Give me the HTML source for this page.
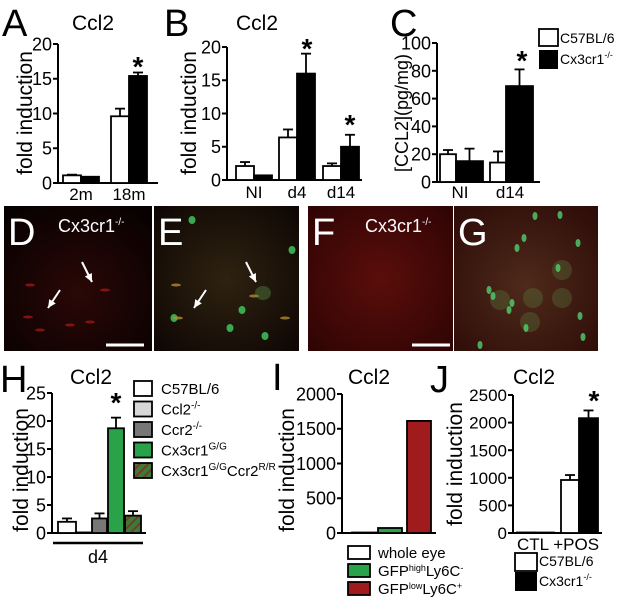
<!DOCTYPE html>
<html><head><meta charset="utf-8">
<style>
html,body{margin:0;padding:0;background:#fff;}
svg{display:block;font-family:"Liberation Sans",Arial,sans-serif;}
</style></head>
<body>
<svg id="fig" width="623" height="598" viewBox="0 0 623 598" xmlns="http://www.w3.org/2000/svg">
<defs>
<pattern id="hatch" patternUnits="userSpaceOnUse" width="6" height="6" patternTransform="rotate(45)">
<rect width="6" height="6" fill="#3c7a3c"/><rect width="2" height="6" fill="#7a3a20"/>
</pattern>
<radialGradient id="redbg" cx="50%" cy="60%" r="70%"><stop offset="0" stop-color="#2a0806"/><stop offset="1" stop-color="#080101"/></radialGradient>
<radialGradient id="mixbg" cx="50%" cy="50%" r="70%"><stop offset="0" stop-color="#2e2210"/><stop offset="1" stop-color="#0e0604"/></radialGradient>
<radialGradient id="fbg" cx="50%" cy="50%" r="70%"><stop offset="0" stop-color="#5a0e0a"/><stop offset="1" stop-color="#2e0404"/></radialGradient>
<radialGradient id="gbg" cx="50%" cy="55%" r="70%"><stop offset="0" stop-color="#4e2a1a"/><stop offset="1" stop-color="#2e0c08"/></radialGradient>
</defs>
<g id="layer"></g>
</svg>
<script>
// Panel A data
const aCats=["2m","18m"];
const aWT=[1.1,9.6], aWTerr=[1.2,10.7];
const aKO=[0.9,15.4], aKOerr=[0.9,15.9];
const aTicks=[0,5,10,15,20];
// Panel B data
const bCats=["NI","d4","d14"];
const bWT=[2.1,6.4,2.1], bWTerr=[2.7,7.6,2.5];
const bKO=[0.7,16,5.0], bKOerr=[0.7,19,6.8];
const bTicks=[0,5,10,15,20];
// Panel C data
const cCats=["NI","d14"];
const cWT=[20,14], cWTerr=[23,22];
const cKO=[15,69], cKOerr=[24,81];
const cTicks=[0,20,40,60,80,100];
// Panel H data
const hSeries=["C57BL/6","Ccl2","Ccr2","Cx3cr1GG","Cx3cr1GGCcr2RR"];
const hVals=[2.0,0.1,2.6,18.7,3.1];
const hErr=[2.6,0.1,3.5,20.6,3.9];
const hTicks=[0,5,10,15,20,25];
// Panel I data
const iSeries=["whole eye","GFPhigh","GFPlow"];
const iVals=[1,72,1613];
const iTicks=[0,500,1000,1500,2000];
// Panel J data
const jCats=["CTL","+POS"];
const jWT=[10,960], jWTerr=[10,1050];
const jKO=[8,2080], jKOerr=[8,2220];
const jTicks=[0,500,1000,1500,2000,2500];

const NS="http://www.w3.org/2000/svg";
const L=document.getElementById('layer');
function mk(tag,attrs,parent){const e=document.createElementNS(NS,tag);for(const k in attrs)e.setAttribute(k,attrs[k]);(parent||L).appendChild(e);return e;}
function txt(x,y,s,size,anchor,parent){const t=mk('text',{x:x,y:y,'font-size':size,'text-anchor':anchor||'start',fill:'#000'},parent);t.textContent=s;return t;}

function axis(name,x0,y0,yTop,maxV,ticks,xEnd,fs){
  const g=mk('g',{});
  
  
  const sy=v=>y0-(v/maxV)*(y0-yTop);
  mk('line',{x1:x0,y1:y0,x2:x0,y2:yTop,stroke:'#000','stroke-width':2},g);
  mk('line',{x1:x0,y1:y0,x2:xEnd,y2:y0,stroke:'#000','stroke-width':2},g);
  ticks.forEach(v=>{
    mk('line',{x1:x0-5,y1:sy(v),x2:x0,y2:sy(v),stroke:'#000','stroke-width':2},g);
    const t=txt(x0-6,sy(v)+fs*0.36,String(v),fs,'end',g);
    
    
  });
  return sy;
}
function bar(name,x,w,v,err,sy,fill){
  const y0=sy(0),yt=sy(v);
  const r=mk('rect',{x:x,y:Math.min(yt,y0-0.5),width:w,height:Math.max(y0-yt,0.5),fill:fill,stroke:'#000','stroke-width':1.8});
  
  
  if(err!=null && err>v){
    const cx=x+w/2,ye=sy(err);
    mk('line',{x1:cx,y1:yt,x2:cx,y2:ye,stroke:'#000','stroke-width':1.8});
    mk('line',{x1:cx-5,y1:ye,x2:cx+5,y2:ye,stroke:'#000','stroke-width':1.8});
  }
}
function star(x,y){const t=txt(x,y,'*',28,'middle');t.setAttribute('font-weight','bold');}
function ylabel(x,y,s,fs,name){const t=mk('text',{x:0,y:0,'font-size':fs,'text-anchor':'middle',transform:`translate(${x},${y}) rotate(-90)`});t.textContent=s;}
function label(x,y,s,fs,name,fill){const t=txt(x,y,s,fs,'start');if(fill)t.setAttribute('fill',fill);return t;}

// ---- Panel A
label(2,36,'A',38,'panel-a-letter');
label(72,30,'Ccl2',21,'panel-a-title');
ylabel(32,113,'fold induction',21,'panel-a-y-title');
let sy=axis('panel-a',58,183,44,20,aTicks,158,18);
const aX=[63,111];
aCats.forEach((c,i)=>{
  bar('bar-a-wt-'+c,aX[i],18,aWT[i],aWTerr[i],sy,'#fff');
  bar('bar-a-ko-'+c,aX[i]+18,18,aKO[i],aKOerr[i],sy,'#000');
  const t=txt(aX[i]+18,200,c,17,'middle');
});
star(138,76);

// ---- Panel B
label(164,36,'B',38,'panel-b-letter');
label(236,30,'Ccl2',21,'panel-b-title');
ylabel(196,113,'fold induction',21,'panel-b-y-title');
sy=axis('panel-b',227,180,47,20,bTicks,362,18);
const bX=[236,279,323];
bCats.forEach((c,i)=>{
  bar('bar-b-wt-'+c,bX[i],18,bWT[i],bWTerr[i],sy,'#fff');
  bar('bar-b-ko-'+c,bX[i]+18,18,bKO[i],bKOerr[i],sy,'#000');
  const t=txt(bX[i]+18,198,c,17,'middle');
});
star(307,58);star(350,134);

// ---- Panel C
label(390,36,'C',38,'panel-c-letter');
ylabel(408,113,'[CCL2](pg/mg)',18,'panel-c-y-title');
sy=axis('panel-c',437,182,43,100,cTicks,540,18);
const cX=[440,490];
cCats.forEach((c,i)=>{
  bar('bar-c-wt-'+c,cX[i],16,cWT[i],cWTerr[i],sy,'#fff');
  bar('bar-c-ko-'+c,cX[i]+16,27,cKO[i],cKOerr[i],sy,'#000');
  const t=txt(cX[i]+20,198,c,17,'middle');
});
star(522,70);
// legend C
let lg=mk('g',{});
mk('rect',{x:539,y:29,width:19,height:17,fill:'#fff',stroke:'#000','stroke-width':1.8},lg);
mk('rect',{x:539,y:50,width:19,height:19,fill:'#000'},lg);
txt(560,43,'C57BL/6',14,'start',lg);
let tt=txt(560,64,'Cx3cr1',14,'start',lg);
let ts=mk('tspan',{dy:-6,'font-size':9},tt);ts.textContent='-/-';

// ---- Image row
function imgPanel(name,x,w,fill,letter,extra){
  const g=mk('g',{});
  mk('rect',{x:x,y:206,width:w,height:145,fill:fill},g);
  extra(g,x);
  const t=txt(x+4,245,letter,38,'start',g);t.setAttribute('fill','#fff');
  return g;
}
function blob(g,x,y,rx,ry,c,o){mk('ellipse',{cx:x,cy:y,rx:rx,ry:ry,fill:c,opacity:o},g);}
function arrow(g,x1,y1,x2,y2){
  mk('line',{x1:x1,y1:y1,x2:x2,y2:y2,stroke:'#fff','stroke-width':2},g);
  const a=Math.atan2(y2-y1,x2-x1),s=9;
  const p=[[x2,y2],[x2-s*Math.cos(a-0.45),y2-s*Math.sin(a-0.45)],[x2-s*Math.cos(a+0.45),y2-s*Math.sin(a+0.45)]];
  mk('polygon',{points:p.map(q=>q.join(',')).join(' '),fill:'#fff'},g);
}
imgPanel('image-d',4,148,'url(#redbg)','D',(g,x)=>{
  [[30,285],[105,290],[28,317],[90,322],[70,325],[40,330]].forEach(p=>blob(g,p[0],p[1],5,1.5,'#b01818',0.7));
  arrow(g,82,262,92,282);arrow(g,60,290,48,308);
  mk('line',{x1:106,y1:345,x2:144,y2:345,stroke:'#fff','stroke-width':3},g);
  const t=txt(58,232,'Cx3cr1',18,'start',g);t.setAttribute('fill','#fff');
  const s2=mk('tspan',{dy:-7,'font-size':10},t);s2.textContent='-/-';
});
imgPanel('image-e',154,145,'url(#mixbg)','E',(g,x)=>{
  [[192,220],[242,310],[230,328],[265,336],[292,250],[174,318]].forEach(p=>blob(g,p[0],p[1],3.5,4,'#40d060',0.8));
  [[176,285],[254,296],[178,318],[285,318]].forEach(p=>blob(g,p[0],p[1],5,1.5,'#c09030',0.75));
  blob(g,263,293,8,7,'#60a050',0.35);
  arrow(g,246,262,256,282);arrow(g,206,290,194,308);
});
imgPanel('image-f',308,145,'url(#fbg)','F',(g,x)=>{
  mk('line',{x1:412,y1:345,x2:450,y2:345,stroke:'#fff','stroke-width':3},g);
  const t=txt(365,232,'Cx3cr1',18,'start',g);t.setAttribute('fill','#fff');
  const s2=mk('tspan',{dy:-7,'font-size':10},t);s2.textContent='-/-';
});
imgPanel('image-g',454,144,'url(#gbg)','G',(g,x)=>{
  [[500,300],[533,298],[562,298],[530,322],[562,270]].forEach(p=>blob(g,p[0],p[1],10,10,'#5a7a40',0.35));
  [[489,290],[512,303],[517,248],[524,238],[535,216],[560,215],[578,243],[558,268],[493,296],[509,310],[580,316],[583,337],[526,328],[480,345]].forEach(p=>blob(g,p[0],p[1],2.5,4,'#50d070',0.8));
});

// ---- Panel H
label(0,392,'H',38,'panel-h-letter');
label(70,384,'Ccl2',21,'panel-h-title');
ylabel(28,470,'fold induction',21,'panel-h-y-title');
sy=axis('panel-h',52,533,393,25,hTicks,146,18);
const hX=[58,76,92,108,125];
const hW=[18,14,15,16,16];
const hFill=['#fff','#d8d8d8','#777','#2aa24a','url(#hatch)'];
hSeries.forEach((s,i)=>bar('bar-h-'+s,hX[i],hW[i],hVals[i],hErr[i],sy,hFill[i]));
star(116,412);
mk('line',{x1:53,y1:543,x2:143,y2:543,stroke:'#000','stroke-width':2.5});
label(88,563,'d4',18,'x-label-d4');
lg=mk('g',{});
const hLeg=[['C57BL/6','',''],['Ccl2','-/-',''],['Ccr2','-/-',''],['Cx3cr1','G/G',''],['Cx3cr1','G/G','Ccr2']];
hLeg.forEach((e,i)=>{
  const y=381+i*20.5;
  mk('rect',{x:134,y:y,width:18,height:15,fill:hFill[i],stroke:'#000','stroke-width':1.8},lg);
  const t=txt(161,y+13,e[0],15,'start',lg);
  if(e[1]){const s=mk('tspan',{dy:-6,'font-size':10},t);s.textContent=e[1];}
  if(e[2]){const s=mk('tspan',{dy:6},t);s.textContent=e[2];const s3=mk('tspan',{dy:-6,'font-size':10},t);s3.textContent='R/R';}
});

// ---- Panel I
label(272,390,'I',38,'panel-i-letter');
label(348,384,'Ccl2',21,'panel-i-title');
ylabel(294,470,'fold induction',21,'panel-i-y-title');
sy=axis('panel-i',342,533,394,2000,iTicks,436,18);
const iX=[352,378,407];
const iFill=['#fff','#2aa24a','#a01c1c'];
iSeries.forEach((s,i)=>bar('bar-i-'+s,iX[i],24,iVals[i],null,sy,iFill[i]));
lg=mk('g',{});
const iLeg=[['whole eye','',''],['GFP','high','Ly6C','-'],['GFP','low','Ly6C','+']];
iLeg.forEach((e,i)=>{
  const y=546+i*18;
  mk('rect',{x:348,y:y,width:22,height:13,fill:iFill[i],stroke:'#000','stroke-width':1.8},lg);
  const t=txt(378,y+12,e[0],15,'start',lg);
  if(e[1]){const s=mk('tspan',{dy:-5,'font-size':9},t);s.textContent=e[1];const s2=mk('tspan',{dy:5},t);s2.textContent=e[2];const s3=mk('tspan',{dy:-5,'font-size':9},t);s3.textContent=e[3];}
});

// ---- Panel J
label(430,392,'J',38,'panel-j-letter');
label(513,384,'Ccl2',21,'panel-j-title');
ylabel(462,464,'fold induction',21,'panel-j-y-title');
sy=axis('panel-j',513,533,395,2500,jTicks,602,17);
const jX=[517,561];
jCats.forEach((c,i)=>{
  bar('bar-j-wt-'+c,jX[i],18,jWT[i],jWTerr[i],sy,'#fff');
  bar('bar-j-ko-'+c,jX[i]+18,19,jKO[i],jKOerr[i],sy,'#000');
});
label(517,550,'CTL +POS',17,'x-labels-j');
star(594,410);
lg=mk('g',{});
mk('rect',{x:515,y:553,width:22,height:18,fill:'#fff',stroke:'#000','stroke-width':1.8},lg);
mk('rect',{x:515,y:572,width:22,height:19,fill:'#000'},lg);
txt(539,566,'C57BL/6',14,'start',lg);
tt=txt(539,586,'Cx3cr1',14,'start',lg);
ts=mk('tspan',{dy:-6,'font-size':9},tt);ts.textContent='-/-';
</script>
</body></html>
